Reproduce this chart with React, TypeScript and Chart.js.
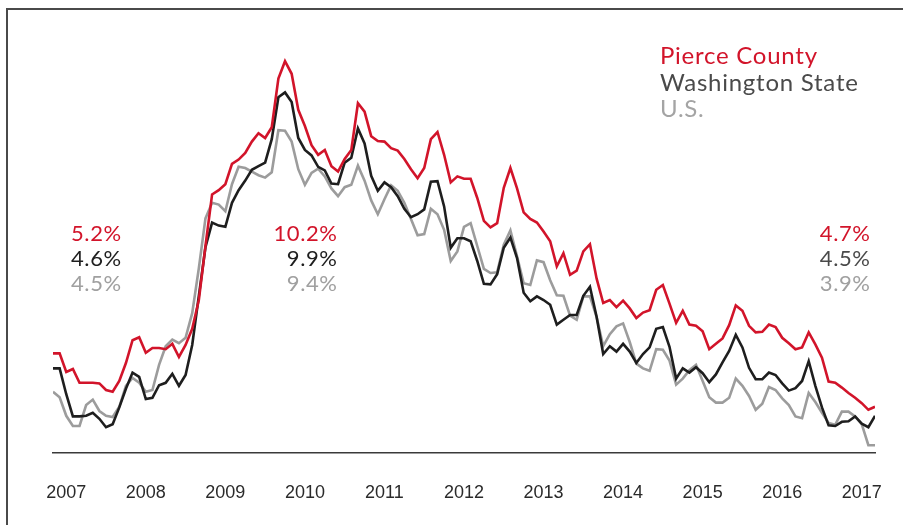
import React, { useEffect, useRef } from "react";
import { Chart, registerables } from "chart.js";

Chart.register(...registerables);

// Monthly unemployment rate, Jan 2007 onward
const years = ["2007", "2008", "2009", "2010", "2011", "2012", "2013", "2014", "2015", "2016", "2017"];

const pierceCounty = [
  5.16, 5.16, 4.85, 4.90, 4.67, 4.67, 4.67, 4.66, 4.55, 4.52, 4.70, 5.00,
  5.38, 5.43, 5.17, 5.25, 5.25, 5.23, 5.32, 5.10, 5.30, 5.57, 6.05, 6.95,
  7.81, 7.88, 7.98, 8.32, 8.39, 8.50, 8.69, 8.83, 8.75, 8.93, 9.74, 10.03,
  9.82, 9.22, 8.95, 8.63, 8.47, 8.55, 8.28, 8.19, 8.40, 8.55, 9.33, 9.19,
  8.78, 8.70, 8.69, 8.58, 8.54, 8.40, 8.23, 8.08, 8.25, 8.73, 8.85, 8.47,
  8.01, 8.11, 8.07, 8.07, 7.75, 7.37, 7.26, 7.33, 7.92, 8.25, 7.91, 7.51,
  7.40, 7.34, 7.19, 7.03, 6.61, 6.83, 6.47, 6.54, 6.86, 6.98, 6.41, 6.00,
  6.05, 5.93, 6.04, 5.91, 5.75, 5.84, 5.88, 6.22, 6.30, 5.99, 5.67, 5.87,
  5.64, 5.62, 5.53, 5.23, 5.32, 5.41, 5.63, 5.96, 5.87, 5.62, 5.51, 5.52,
  5.64, 5.60, 5.42, 5.33, 5.23, 5.26, 5.51, 5.31, 5.09, 4.69, 4.67, 4.59,
  4.50, 4.42, 4.33, 4.22, 4.27,
];

const washingtonState = [
  4.91, 4.91, 4.48, 4.11, 4.11, 4.12, 4.17, 4.07, 3.93, 3.98, 4.26, 4.57,
  4.84, 4.77, 4.40, 4.42, 4.63, 4.67, 4.82, 4.62, 4.80, 5.30, 6.12, 6.93,
  7.34, 7.29, 7.27, 7.67, 7.88, 8.04, 8.22, 8.28, 8.34, 8.73, 9.43, 9.51,
  9.35, 8.75, 8.55, 8.46, 8.27, 8.21, 7.99, 7.98, 8.34, 8.42, 8.91, 8.66,
  8.12, 7.87, 8.01, 7.93, 7.78, 7.57, 7.43, 7.48, 7.56, 8.02, 8.03, 7.61,
  6.92, 7.08, 7.08, 7.03, 6.70, 6.32, 6.31, 6.48, 6.92, 7.09, 6.75, 6.17,
  6.03, 6.11, 6.05, 5.97, 5.64, 5.72, 5.80, 5.80, 6.12, 6.27, 5.77, 5.15,
  5.28, 5.19, 5.32, 5.19, 5.00, 5.15, 5.26, 5.57, 5.60, 5.27, 4.74, 4.91,
  4.84, 4.93, 4.83, 4.68, 4.81, 5.01, 5.20, 5.47, 5.26, 4.92, 4.73, 4.73,
  4.84, 4.80, 4.66, 4.54, 4.58, 4.70, 5.03, 4.62, 4.26, 3.96, 3.95, 4.02,
  4.03, 4.11, 3.99, 3.93, 4.12,
];

const unitedStates = [
  4.52, 4.43, 4.12, 3.95, 3.95, 4.30, 4.39, 4.20, 4.12, 4.10, 4.27, 4.62,
  4.75, 4.67, 4.52, 4.55, 4.97, 5.28, 5.39, 5.33, 5.42, 5.83, 6.58, 7.41,
  7.67, 7.64, 7.53, 7.98, 8.27, 8.25, 8.19, 8.13, 8.09, 8.18, 8.88, 8.87,
  8.69, 8.23, 7.97, 8.17, 8.24, 8.11, 7.91, 7.78, 7.93, 7.97, 8.29, 8.04,
  7.71, 7.48, 7.73, 7.96, 7.87, 7.67, 7.40, 7.13, 7.15, 7.57, 7.48, 7.22,
  6.70, 6.86, 7.27, 7.33, 6.95, 6.57, 6.50, 6.51, 6.97, 7.21, 6.78, 6.33,
  6.30, 6.71, 6.68, 6.38, 6.13, 6.12, 5.79, 5.72, 6.11, 6.11, 5.77, 5.28,
  5.48, 5.61, 5.66, 5.35, 4.99, 4.91, 4.87, 5.23, 5.22, 5.04, 4.64, 4.74,
  4.88, 4.97, 4.70, 4.43, 4.34, 4.34, 4.42, 4.74, 4.62, 4.45, 4.22, 4.32,
  4.60, 4.55, 4.41, 4.30, 4.11, 4.08, 4.50, 4.35, 4.17, 4.00, 3.97, 4.19,
  4.19, 4.11, 3.98, 3.63, 3.63,
];

const seriesNames = ["Pierce County", "Washington State", "U.S."];
const startLabels = ["5.2%", "4.6%", "4.5%"];
const peakLabels = ["10.2%", "9.9%", "9.4%"];
const latestLabels = ["4.7%", "4.5%", "3.9%"];

const RED = "#d2142a";
const BLACK = "#1e1e1e";
const GRAY = "#9c9c9c";
const LEGEND_COLORS = [RED, "#4a4a4a", "#a4a4a4"];
const PCT_COLORS_LEFT = [RED, "#1e1e1e", "#a0a0a0"];
const PCT_COLORS_RIGHT = [RED, "#4a4a4a", "#a0a0a0"];

const FONT = "Lato, 'Noto Sans', sans-serif";

function TextAt(props: {
  text: string;
  x: number;
  baseline: number;
  size: number;
  color: string;
  spacing?: number;
  align?: "left" | "right";
}) {
  const { text, x, baseline, size, color, spacing = 0, align = "left" } = props;
  const top = baseline - 0.987 * size;
  const style: React.CSSProperties = {
    position: "absolute",
    top,
    fontFamily: FONT,
    fontSize: size,
    lineHeight: `${size * 1.2}px`,
    letterSpacing: spacing,
    color,
    whiteSpace: "nowrap",
  };
  if (align === "right") style.right = 903 - x - spacing;
  else style.left = x;
  return <div style={style}>{text}</div>;
}

export default function App() {
  const canvasRef = useRef<HTMLCanvasElement | null>(null);

  useEffect(() => {
    const canvas = canvasRef.current;
    if (!canvas) return;
    const toPoints = (arr: number[]) => arr.map((v, i) => ({ x: i, y: v }));
    const chart = new Chart(canvas, {
      type: "line",
      data: {
        datasets: [
          {
            label: seriesNames[0],
            data: toPoints(pierceCounty),
            borderColor: RED,
            borderWidth: 2.6,
            pointRadius: 0,
            tension: 0,
            order: 0,
          },
          {
            label: seriesNames[1],
            data: toPoints(washingtonState),
            borderColor: BLACK,
            borderWidth: 2.6,
            pointRadius: 0,
            tension: 0,
            order: 1,
          },
          {
            label: seriesNames[2],
            data: toPoints(unitedStates),
            borderColor: GRAY,
            borderWidth: 2.6,
            pointRadius: 0,
            tension: 0,
            order: 2,
          },
        ],
      },
      options: {
        animation: false,
        responsive: false,
        maintainAspectRatio: false,
        layout: { padding: { left: 53, right: 28, top: 33, bottom: 0 } },
        plugins: { legend: { display: false }, tooltip: { enabled: false } },
        scales: {
          x: {
            type: "linear",
            min: 0,
            max: pierceCounty.length - 1,
            grid: { display: false, drawTicks: false },
            border: { display: true, color: "#3a3a3a", width: 1.6 },
            afterBuildTicks: (scale: any) => {
              scale.ticks = years.map((_, k) => ({ value: 12 * k + 2 }));
            },
            afterFit: (scale: any) => {
              scale.height = 72;
              scale.paddingLeft = 0;
              scale.paddingRight = 0;
            },
            ticks: {
              autoSkip: false,
              maxRotation: 0,
              padding: 29,
              color: "#2a2a2a",
              font: { family: "'Liberation Sans Narrow', 'Liberation Sans', sans-serif", size: 18 },
              callback: (v: any) => {
                const k = Math.round((Number(v) - 2) / 12);
                return years[k] ?? "";
              },
            },
          },
          y: { display: false, min: 3.5, max: 10.5 },
        },
      },
    } as any);
    return () => chart.destroy();
  }, []);

  const rowBaselines = [241.7, 266.7, 291.7];
  const legendBaselines = [64.3, 91.5, 117.5];

  return (
    <div
      style={{
        position: "absolute",
        left: 0,
        top: 0,
        width: 903,
        height: 525,
        background: "#fff",
        overflow: "hidden",
      }}
    >
      <div
        style={{
          position: "absolute",
          left: 6,
          top: 8,
          width: 910,
          height: 530,
          borderTop: "2px solid #4a4a4a",
          borderLeft: "2px solid #4a4a4a",
        }}
      />
      <canvas
        ref={canvasRef}
        width={903}
        height={525}
        style={{ position: "absolute", left: 0, top: 0, width: 903, height: 525 }}
      />
      {seriesNames.map((t, k) => (
        <TextAt key={t} text={t} x={660} baseline={legendBaselines[k]} size={24} spacing={0.75} color={LEGEND_COLORS[k]} />
      ))}
      {startLabels.map((t, k) => (
        <TextAt key={"s" + k} text={t} x={71} baseline={rowBaselines[k]} size={22} spacing={0.6} color={PCT_COLORS_LEFT[k]} />
      ))}
      {peakLabels.map((t, k) => (
        <TextAt key={"p" + k} text={t} x={337} baseline={rowBaselines[k]} size={22} spacing={0.6} color={PCT_COLORS_LEFT[k]} align="right" />
      ))}
      {latestLabels.map((t, k) => (
        <TextAt key={"l" + k} text={t} x={870} baseline={rowBaselines[k]} size={22} spacing={0.6} color={PCT_COLORS_RIGHT[k]} align="right" />
      ))}
    </div>
  );
}
